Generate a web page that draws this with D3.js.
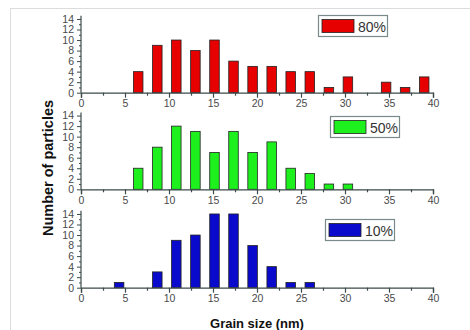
<!DOCTYPE html>
<html>
<head>
<meta charset="utf-8">
<script src="https://cdn.jsdelivr.net/npm/d3@7/dist/d3.min.js"></script>
<style>
  html, body { margin: 0; padding: 0; background: #fff; }
  svg { display: block; }
  text { font-family: "Liberation Sans", Arial, sans-serif; }
</style>
</head>
<body>
<svg id="chart" width="470" height="330"></svg>
<script>
// Grain size bin centres (nm)
const binCenters = [4.33, 6.5, 8.67, 10.83, 13, 15.17, 17.33, 19.5, 21.67, 23.83, 26, 28.17, 30.33, 32.5, 34.67, 36.83, 39];

// Counts per bin for each sample
const counts80 = [0, 4, 9, 10, 8, 10, 6, 5, 5, 4, 4, 1, 3, 0, 2, 1, 3];
const counts50 = [0, 4, 8, 12, 11, 7, 11, 7, 9, 4, 3, 1, 1, 0, 0, 0, 0];
const counts10 = [1, 0, 3, 9, 10, 14, 14, 8, 4, 1, 1, 0, 0, 0, 0, 0, 0];

const seriesLabels = ["80%", "50%", "10%"];
const seriesColors = ["#e60000", "#1ef01e", "#0a0acc"];

const xTicks = [0, 5, 10, 15, 20, 25, 30, 35, 40];
const yTicks = [0, 2, 4, 6, 8, 10, 12, 14];

const binWidth = 13 / 6;
const barWidth = binWidth * 0.5;

const svg = d3.select("#chart");

// light frame along the top and left
svg.append("line").attr("x1", 10).attr("x2", 470).attr("y1", 8.5).attr("y2", 8.5)
  .attr("stroke", "#dcdcdc").attr("stroke-width", 1);
svg.append("line").attr("x1", 10.5).attr("x2", 10.5).attr("y1", 8).attr("y2", 330)
  .attr("stroke", "#dcdcdc").attr("stroke-width", 1);

const x = d3.scaleLinear().domain([0, 40]).range([81, 433]);

const panels = [
  { values: counts80, base: 92.7, legend: [318, 15] },
  { values: counts50, base: 189.3, legend: [330, 116] },
  { values: counts10, base: 287.7, legend: [325, 219] }
];

const axisColor = "#3c4a4a";
const labelColor = "#4a4a4a";

panels.forEach((p, i) => {
  const y = d3.scaleLinear().domain([0, 15]).range([p.base, p.base - 79]);
  const g = svg.append("g");

  // bars
  g.selectAll("rect.bar")
    .data(binCenters.map((c, k) => ({ c, v: p.values[k] })).filter(d => d.v > 0))
    .enter().append("rect")
    .attr("class", "bar")
    .attr("x", d => x(d.c - barWidth / 2))
    .attr("width", d => x(d.c + barWidth / 2) - x(d.c - barWidth / 2))
    .attr("y", d => y(d.v))
    .attr("height", d => y(0) - y(d.v))
    .attr("fill", seriesColors[i])
    .attr("stroke", "#222")
    .attr("stroke-width", 0.8);

  // x axis
  const xAxis = d3.axisBottom(x).tickValues(xTicks).tickSize(5).tickPadding(2);
  const xg = g.append("g").attr("transform", `translate(0,${p.base})`).call(xAxis);
  xg.select(".domain").attr("stroke", axisColor).attr("stroke-width", 1.3);
  xg.selectAll(".tick line").attr("stroke", axisColor).attr("stroke-width", 1.2);
  xg.selectAll(".tick text").attr("fill", labelColor).attr("font-size", 10.5)
    .attr("font-family", "Liberation Sans, Arial, sans-serif");
  const xMinor = d3.axisBottom(x).tickValues(d3.range(2.5, 40, 5)).tickSize(3).tickFormat("");
  const xm = g.append("g").attr("transform", `translate(0,${p.base})`).call(xMinor);
  xm.select(".domain").remove();
  xm.selectAll(".tick line").attr("stroke", axisColor).attr("stroke-width", 1.2);

  // y axis
  const yAxis = d3.axisLeft(y).tickValues(yTicks).tickSize(4).tickPadding(3).tickSizeOuter(0);
  const yg = g.append("g").attr("transform", `translate(${x(0)},0)`).call(yAxis);
  yg.select(".domain").attr("stroke", axisColor).attr("stroke-width", 1.2)
    .attr("d", `M0,${y(14.6)}V${y(0)}`);
  yg.selectAll(".tick line").attr("stroke", axisColor).attr("stroke-width", 1);
  yg.selectAll(".tick text").attr("fill", labelColor).attr("font-size", 10.5)
    .attr("font-family", "Liberation Sans, Arial, sans-serif");
  const yMinor = d3.axisLeft(y).tickValues(d3.range(1, 15, 2)).tickSize(2).tickFormat("");
  const ym = g.append("g").attr("transform", `translate(${x(0)},0)`).call(yMinor);
  ym.select(".domain").remove();
  ym.selectAll(".tick line").attr("stroke", axisColor).attr("stroke-width", 1);

  // legend
  const [lx, ly] = p.legend;
  const lg = g.append("g").attr("transform", `translate(${lx},${ly})`);
  lg.append("rect").attr("x", 0.5).attr("y", 0.5).attr("width", 69).attr("height", 21)
    .attr("fill", "#fff").attr("stroke", "#7a8a8a").attr("stroke-width", 1.2);
  lg.append("rect").attr("x", 4).attr("y", 4.5).attr("width", 32).attr("height", 13)
    .attr("fill", seriesColors[i]).attr("stroke", "#222").attr("stroke-width", 0.8);
  lg.append("text").attr("x", 40).attr("y", 16.5).attr("font-size", 14)
    .attr("fill", "#333").text(seriesLabels[i]);
});

// axis titles
svg.append("text")
  .attr("transform", "translate(53,168) rotate(-90)")
  .attr("text-anchor", "middle")
  .attr("font-size", 14.5).attr("font-weight", "bold").attr("fill", "#111")
  .text("Number of particles");

svg.append("text")
  .attr("x", 257).attr("y", 328)
  .attr("text-anchor", "middle")
  .attr("font-size", 13).attr("font-weight", "bold").attr("fill", "#111")
  .text("Grain size (nm)");
</script>
</body>
</html>
